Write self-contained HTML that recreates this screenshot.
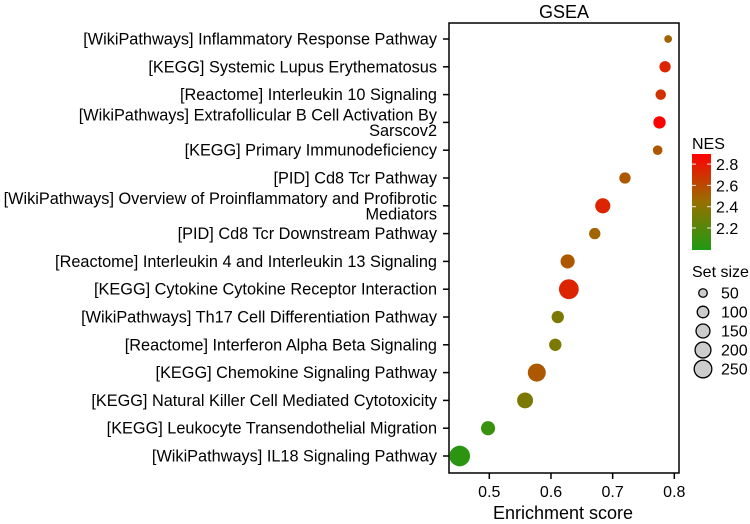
<!DOCTYPE html>
<html><head><meta charset="utf-8"><style>
html,body{margin:0;padding:0;background:#fff;}
svg{display:block;font-family:"Liberation Sans",Arial,sans-serif;}
</style></head><body>
<svg id="chart" width="750" height="524" viewBox="0 0 750 524">
<defs><linearGradient id="nesgrad" x1="0" y1="1" x2="0" y2="0">
<stop offset="0" stop-color="#1e9a14"/><stop offset="0.5" stop-color="#967000"/><stop offset="1" stop-color="#ff0000"/>
</linearGradient></defs>
<text x="564" y="18" font-size="18" text-anchor="middle">GSEA</text>
<rect x="449" y="23" width="230" height="450" fill="none" stroke="#000" stroke-width="1.5"/>
<g id="marks"></g>
<g id="yaxis"></g>
<g id="xaxis"></g>
<text x="563" y="519" font-size="18" text-anchor="middle">Enrichment score</text>
<text x="692" y="149" font-size="16">NES</text>
<rect x="692" y="154" width="19" height="96" fill="url(#nesgrad)"/>
<g id="nesticks"></g>
<text x="692" y="277" font-size="16">Set size</text>
<g id="sizelegend"></g>
</svg>
<script>
const categories=["[WikiPathways] Inflammatory Response Pathway","[KEGG] Systemic Lupus Erythematosus","[Reactome] Interleukin 10 Signaling","[WikiPathways] Extrafollicular B Cell Activation By|Sarscov2","[KEGG] Primary Immunodeficiency","[PID] Cd8 Tcr Pathway","[WikiPathways] Overview of Proinflammatory and Profibrotic|Mediators","[PID] Cd8 Tcr Downstream Pathway","[Reactome] Interleukin 4 and Interleukin 13 Signaling","[KEGG] Cytokine Cytokine Receptor Interaction","[WikiPathways] Th17 Cell Differentiation Pathway","[Reactome] Interferon Alpha Beta Signaling","[KEGG] Chemokine Signaling Pathway","[KEGG] Natural Killer Cell Mediated Cytotoxicity","[KEGG] Leukocyte Transendothelial Migration","[WikiPathways] IL18 Signaling Pathway"];
const esValues=[0.790,0.785,0.778,0.776,0.773,0.720,0.684,0.671,0.627,0.629,0.611,0.607,0.577,0.558,0.498,0.452];
const nesValues=[2.5,2.75,2.7,2.9,2.55,2.55,2.75,2.5,2.55,2.75,2.35,2.35,2.55,2.35,2.1,2.05];
const setSizes=[40,95,80,115,65,95,180,95,155,320,115,115,260,200,155,350];
const xTicks=[0.5,0.6,0.7,0.8];
const nesTicks=[2.2,2.4,2.6,2.8];
const sizeTicks=[50,100,150,200,250];
const NS="http://www.w3.org/2000/svg";
const xs=v=>489.3+(v-0.5)*616.7;
const ys=i=>39+i*27.8;
const rs=s=>0.6+0.52*Math.sqrt(s);
const ny=v=>228-(v-2.2)*106.5;
function col(v){let t=Math.max(0,Math.min(1,(v-2.0)/0.9));let a,b,u;
 if(t<0.5){a=[30,154,20];b=[150,112,0];u=t/0.5;}else{a=[150,112,0];b=[255,0,0];u=(t-0.5)/0.5;}
 return `rgb(${a.map((c,k)=>Math.round(c+(b[k]-c)*u)).join(",")})`;}
function mk(tag,attrs,parent){const e=document.createElementNS(NS,tag);for(const k in attrs)e.setAttribute(k,attrs[k]);parent.appendChild(e);return e;}
const marks=document.getElementById("marks"),yax=document.getElementById("yaxis"),xax=document.getElementById("xaxis");
categories.forEach((c,i)=>{
 const y=ys(i);
 const dot=mk("circle",{cx:xs(esValues[i]),cy:y,r:rs(setSizes[i]),fill:col(nesValues[i])},marks);
 
 
 const tk=mk("line",{x1:443,x2:449,y1:y,y2:y,stroke:"#000","stroke-width":1.5},yax);
 
 
 const lines=c.split("|");
 const t=mk("text",{x:437,"font-size":16.3,"text-anchor":"end"},yax);
 
 
 lines.forEach((l,j)=>{const ts=mk("tspan",{x:437,y:lines.length==1?y+5.5:y-2+j*15.5},t);ts.textContent=l;});
});
xTicks.forEach(v=>{
 const tk=mk("line",{x1:xs(v),x2:xs(v),y1:473,y2:479,stroke:"#000","stroke-width":1.5},xax);
 
 
 const t=mk("text",{x:xs(v),y:497,"font-size":16,"text-anchor":"middle"},xax);
 
 
 t.textContent=v.toFixed(1);
});
const nt=document.getElementById("nesticks");
nesTicks.forEach(v=>{
 const l1=mk("line",{x1:692,x2:696,y1:ny(v),y2:ny(v),stroke:"#eee","stroke-width":1},nt);
 
 
 const l2=mk("line",{x1:707,x2:711,y1:ny(v),y2:ny(v),stroke:"#eee","stroke-width":1},nt);
 
 
 const t=mk("text",{x:716,y:ny(v)+6,"font-size":16},nt);
 
 
 t.textContent=v.toFixed(1);
});
const sl=document.getElementById("sizelegend");
sizeTicks.forEach((s,i)=>{
 const y=293+i*19;
 const c=mk("circle",{cx:703,cy:y,r:rs(s),fill:"#ccc",stroke:"#000","stroke-width":1.3},sl);
 
 
 const t=mk("text",{x:721,y:y+5.5,"font-size":16},sl);
 
 
 t.textContent=s;
});
</script>
</body></html>
